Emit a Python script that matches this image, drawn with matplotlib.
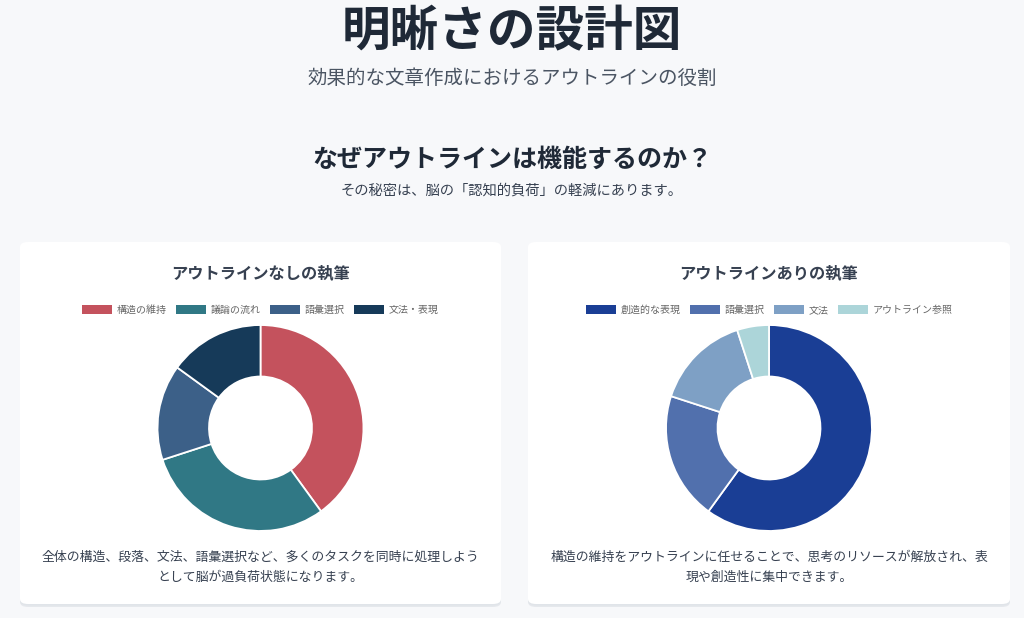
import matplotlib.pyplot as plt
from matplotlib.patches import FancyBboxPatch, Patch

plt.rcParams["font.family"] = ["Noto Sans CJK JP", "DejaVu Sans"]

W, H = 1024, 618

# data
left_labels = ["構造の維持", "議論の流れ", "語彙選択", "文法・表現"]
left_values = [40, 30, 15, 15]
left_colors = ["#c4525d", "#307885", "#3c6088", "#163a59"]

right_labels = ["創造的な表現", "語彙選択", "文法", "アウトライン参照"]
right_values = [60, 20, 15, 5]
right_colors = ["#1a3e95", "#5170ad", "#7ea0c5", "#acd5d9"]

left_title = "アウトラインなしの執筆"
right_title = "アウトラインありの執筆"
left_desc = "全体の構造、段落、文法、語彙選択など、多くのタスクを同時に処理しよう\nとして脳が過負荷状態になります。"
right_desc = "構造の維持をアウトラインに任せることで、思考のリソースが解放され、表\n現や創造性に集中できます。"


def fx(x):
    return x / W


def fy(y):
    return 1 - y / H


fig = plt.figure(figsize=(W / 100, H / 100), dpi=100)
fig.patch.set_facecolor("#f7f8fa")

fig.text(0.5, fy(32), "明晰さの設計図", ha="center", va="center",
         fontsize=35, fontweight="bold", color="#1f2937")
fig.text(0.5, fy(78), "効果的な文章作成におけるアウトラインの役割", ha="center", va="center",
         fontsize=14, color="#4b5563")
fig.text(0.5, fy(160), "なぜアウトラインは機能するのか？", ha="center", va="center",
         fontsize=18, fontweight="bold", color="#1f2937")
fig.text(0.5, fy(191), "その秘密は、脳の「認知的負荷」の軽減にあります。", ha="center", va="center",
         fontsize=10.3, color="#374151")


def card(x0, x1, title, labels, values, colors, desc):
    y0, y1 = 242, 604
    cx = (x0 + x1) / 2
    # shadow + card, kept behind the donut axes
    for dy, c, a in [(3, "#d5d9e0", 0.5), (1.5, "#dfe3e8", 0.7)]:
        fig.patches.append(FancyBboxPatch(
            (fx(x0), fy(y1 + dy)), fx(x1 - x0), (y1 - y0) / H,
            boxstyle="round,pad=0,rounding_size=0.008", transform=fig.transFigure,
            facecolor=c, edgecolor="none", alpha=a, zorder=-2))
    fig.patches.append(FancyBboxPatch(
        (fx(x0), fy(y1)), fx(x1 - x0), (y1 - y0) / H,
        boxstyle="round,pad=0,rounding_size=0.008", transform=fig.transFigure,
        facecolor="white", edgecolor="none", zorder=-1))

    fig.text(fx(cx), fy(273), title, ha="center", va="center",
             fontsize=11.7, fontweight="bold", color="#374151")

    handles = [Patch(facecolor=c, edgecolor="none") for c in colors]
    fig.legend(handles, labels, loc="center", bbox_to_anchor=(fx(cx), fy(310)),
               ncol=4, frameon=False, fontsize=7.2, labelcolor="#666666",
               handlelength=3.0, handleheight=0.9, handletextpad=0.5,
               columnspacing=0.9)

    r = 104
    ccx, ccy = cx, 428
    ax = fig.add_axes([fx(ccx - r), fy(ccy + r), 2 * r / W, 2 * r / H])
    ax.pie(values, colors=colors, startangle=90, counterclock=False,
           wedgeprops=dict(width=0.5, edgecolor="white", linewidth=1.3))
    ax.set_xlim(-1.01, 1.01)
    ax.set_ylim(-1.01, 1.01)
    ax.set_aspect("equal")
    ax.axis("off")

    fig.text(fx(cx), fy(567), desc, ha="center", va="center", fontsize=9.3,
             color="#374151", linespacing=1.7)


card(20, 501, left_title, left_labels, left_values, left_colors, left_desc)
card(528, 1010, right_title, right_labels, right_values, right_colors, right_desc)

fig.savefig("out.png", dpi=100, facecolor=fig.get_facecolor())
